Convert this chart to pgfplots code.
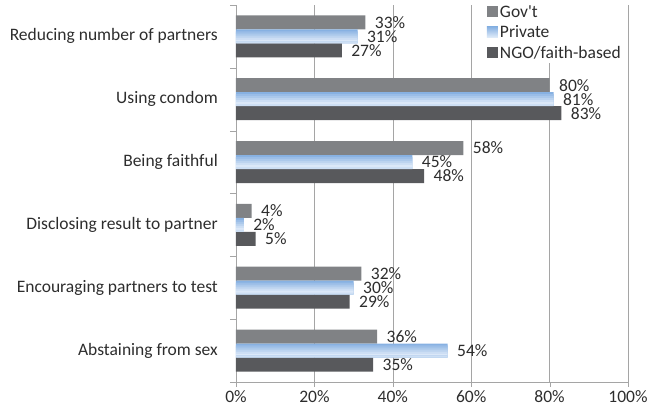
\documentclass[border=0pt]{standalone}
\usepackage{pgfplots}
\usepackage{pgfplotstable}
\pgfplotsset{compat=1.18}
\usepackage{fontspec}
\setmainfont{Carlito}
\definecolor{gov}{RGB}{128,130,133}
\definecolor{ngo}{RGB}{88,89,92}
\definecolor{privE}{RGB}{135,177,226}
\definecolor{privM}{RGB}{228,238,250}
\definecolor{gridc}{RGB}{165,165,165}
\definecolor{txt}{RGB}{45,45,45}
\pgfplotstableread{
v y
31 5
81 4
45 3
2 2
30 1
54 0
}\privtab
\begin{document}
\begin{tikzpicture}
\path[use as bounding box] (-236pt,-24pt) rectangle (414pt,382pt);
\begin{axis}[
  scale only axis, width=392pt, height=377pt,
  xbar, bar width=14pt,
  xmin=0, xmax=100, ymin=-0.5, ymax=5.5,
  font=\fontsize{17.5}{21}\selectfont,
  /pgf/number format/assume math mode=true,
  xtick={0,20,...,100},
  xticklabel={\pgfmathprintnumber{\tick}\%},
  ytick={0,...,5},
  yticklabels={Abstaining from sex, Encouraging partners to test, Disclosing result to partner, Being faithful, Using condom, Reducing number of partners},
  minor ytick={-0.5,0.5,...,5.5},
  every major y tick/.append style={draw=none},
  every minor y tick/.append style={draw=gridc},
  major tick length=5pt, minor tick length=6pt,
  tick align=outside,
  xtick style={draw=gridc},
  y tick label style={inner sep=0pt, xshift=-13pt, text=txt},
  x tick label style={text=txt},
  xmajorgrids, grid style={gridc},
  axis x line*=bottom, axis y line*=left,
  axis line style={gridc,-},
  nodes near coords={\pgfmathprintnumber{\pgfplotspointmeta}\%},
  every node near coord/.append style={text=txt, xshift=6pt, font=\fontsize{17.5}{21}\selectfont},
  legend style={at={(1,1)}, anchor=north east, xshift=-4pt, yshift=3pt, draw=none, fill=white,
    font=\fontsize{17.5}{21}\selectfont, text=txt, row sep=3pt, inner sep=1pt},
  legend cell align=left,
  legend image code/.code={\fill[#1,draw=none] (0pt,-5.5pt) rectangle (11pt,5.5pt);},
]
\addplot[fill=gov, draw=none, bar shift=14pt] coordinates {(33,5) (80,4) (58,3) (4,2) (32,1) (36,0)};
\addplot[fill=privE, draw=none, bar shift=0pt,
  legend image code/.code={\shade[top color=privE, bottom color=privM] (0pt,-5.5pt) rectangle (11pt,5.5pt);}]
  table[x=v, y=y] {\privtab};
\addplot[fill=ngo, draw=none, bar shift=-14pt] coordinates {(27,5) (83,4) (48,3) (5,2) (29,1) (35,0)};
\legend{Gov\textquotesingle t, Private, NGO/faith-based}
% gradient strips over the Private bars (same data)
\addplot[forget plot, nodes near coords={}, fill=privE!80!privM, draw=none, bar width=2.2pt, bar shift=4pt] table[x=v, y=y] {\privtab};
\addplot[forget plot, nodes near coords={}, fill=privE!62!privM, draw=none, bar width=2.2pt, bar shift=2pt] table[x=v, y=y] {\privtab};
\addplot[forget plot, nodes near coords={}, fill=privE!44!privM, draw=none, bar width=2.2pt, bar shift=0pt] table[x=v, y=y] {\privtab};
\addplot[forget plot, nodes near coords={}, fill=privE!26!privM, draw=none, bar width=2.2pt, bar shift=-2pt] table[x=v, y=y] {\privtab};
\addplot[forget plot, nodes near coords={}, fill=privE!10!privM, draw=none, bar width=2.2pt, bar shift=-4pt] table[x=v, y=y] {\privtab};
\addplot[forget plot, nodes near coords={}, fill=privE!25!privM, draw=none, bar width=2pt, bar shift=-6pt] table[x=v, y=y] {\privtab};
\end{axis}
\end{tikzpicture}
\end{document}
